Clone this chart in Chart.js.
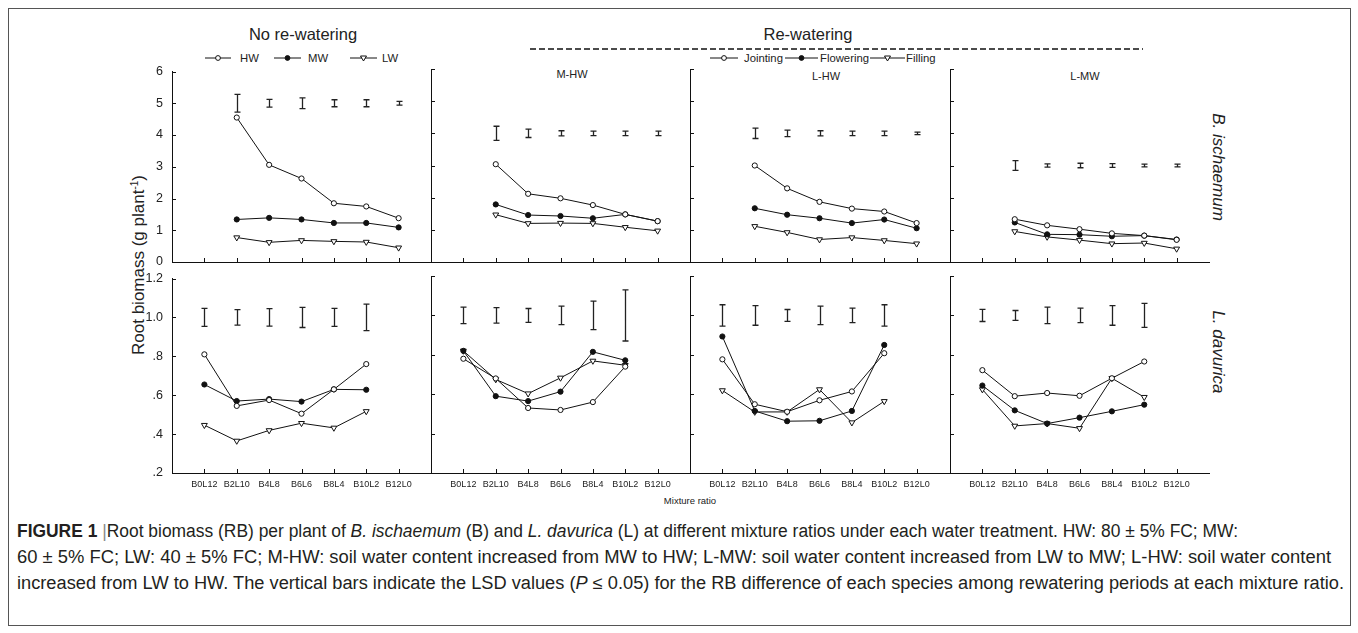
<!DOCTYPE html>
<html>
<head>
<meta charset="utf-8">
<script src="https://cdn.jsdelivr.net/npm/chart.js@4.4.0/dist/chart.umd.min.js"></script>
<style>
  body { margin: 0; background: #fff; font-family: 'Liberation Sans', Arial, sans-serif; color: #222; }
  #fig { position: relative; width: 1358px; height: 633px; overflow: hidden; }
  #frame { position: absolute; left: 8px; top: 8px; width: 1341px; height: 616px; border: 1px solid #555; }
  .abs { position: absolute; white-space: nowrap; }
  .c { transform: translate(-50%, -50%); }
  .m { transform: translateY(-50%); }
  canvas { position: absolute; }
  .hdr { font-size: 16.5px; }
  .leg { font-size: 11.3px; }
  .sub { font-size: 11px; }
  .sp { font-size: 17px; font-style: italic; }
  .cap { font-family: 'Liberation Sans Narrow', 'Liberation Sans', Arial, sans-serif; font-size: 18px; color: #231f20; transform-origin: 0 50%; }
  .cap .bar { color: #888; font-weight: normal; }
</style>
</head>
<body>
<div id="fig">
  <div id="frame"></div>

  <div class="abs c hdr" style="left:303px;top:34px">No re-watering</div>
  <div class="abs c hdr" style="left:808px;top:34px">Re-watering</div>
  <svg class="abs" style="left:530px;top:47px" width="614" height="4">
    <line x1="0" y1="2" x2="613" y2="2" stroke="#111" stroke-width="1.6" stroke-dasharray="6,3"/>
  </svg>

  <!-- legend: no re-watering -->
  <svg class="abs" style="left:205px;top:53px" width="26" height="10"><line x1="0" y1="5" x2="26" y2="5" stroke="#111"/><circle cx="13" cy="5" r="2.4" fill="#fff" stroke="#111"/></svg>
  <div class="abs m leg" style="left:240px;top:58px">HW</div>
  <svg class="abs" style="left:274px;top:53px" width="27" height="10"><line x1="0" y1="5" x2="27" y2="5" stroke="#111"/><circle cx="13.5" cy="5" r="2.4" fill="#111" stroke="#111"/></svg>
  <div class="abs m leg" style="left:308px;top:58px">MW</div>
  <svg class="abs" style="left:350px;top:53px" width="27" height="10"><line x1="0" y1="5" x2="27" y2="5" stroke="#111"/><polygon points="10.5,3 16.5,3 13.5,8" fill="#fff" stroke="#111"/></svg>
  <div class="abs m leg" style="left:382px;top:58px">LW</div>

  <!-- legend: re-watering -->
  <svg class="abs" style="left:710px;top:53px" width="28" height="10"><line x1="0" y1="5" x2="28" y2="5" stroke="#111"/><circle cx="14" cy="5" r="2.4" fill="#fff" stroke="#111"/></svg>
  <div class="abs m leg" style="left:744px;top:58px">Jointing</div>
  <svg class="abs" style="left:785px;top:53px" width="33" height="10"><line x1="0" y1="5" x2="33" y2="5" stroke="#111"/><circle cx="16.5" cy="5" r="2.4" fill="#111" stroke="#111"/></svg>
  <div class="abs m leg" style="left:820px;top:58px">Flowering</div>
  <svg class="abs" style="left:870px;top:53px" width="35" height="10"><line x1="0" y1="5" x2="35" y2="5" stroke="#111"/><polygon points="14.5,3 20.5,3 17.5,8" fill="#fff" stroke="#111"/></svg>
  <div class="abs m leg" style="left:906px;top:58px">Filling</div>

  <div class="abs c sub" style="left:572px;top:74px">M-HW</div>
  <div class="abs c sub" style="left:826px;top:76px">L-HW</div>
  <div class="abs c sub" style="left:1085px;top:76px">L-MW</div>

  <div class="abs sp" style="left:1218px;top:167px;transform:translate(-50%,-50%) rotate(90deg)">B. ischaemum</div>
  <div class="abs sp" style="left:1218px;top:352px;transform:translate(-50%,-50%) rotate(90deg)">L. davurica</div>

  <div class="abs" style="left:139px;top:265px;font-size:17px;transform:translate(-50%,-50%) rotate(-90deg)">Root biomass (g plant<sup style="font-size:10px">-1</sup>)</div>
  <div class="abs c" style="left:690px;top:500px;font-size:9.5px">Mixture ratio</div>

  <div class="abs m cap" data-w="1221" style="left:17px;top:531px"><b>FIGURE 1</b> <span class="bar">|</span>Root biomass (RB) per plant of <i>B. ischaemum</i> (B) and <i>L. davurica</i> (L) at different mixture ratios under each water treatment. HW: 80 ± 5% FC; MW:</div>
  <div class="abs m cap" data-w="1314" style="left:17px;top:557px">60 ± 5% FC; LW: 40 ± 5% FC; M-HW: soil water content increased from MW to HW; L-MW: soil water content increased from LW to MW; L-HW: soil water content</div>
  <div class="abs m cap" data-w="1327" style="left:17px;top:583px">increased from LW to HW. The vertical bars indicate the LSD values (<i>P</i> ≤ 0.05) for the RB difference of each species among rewatering periods at each mixture ratio.</div>
</div>

<script>
const ratios = ['B0L12', 'B2L10', 'B4L8', 'B6L6', 'B8L4', 'B10L2', 'B12L0']

// B. ischaemum, B2L10 .. B12L0
const bisNoHW = [4.55, 3.06, 2.63, 1.85, 1.75, 1.38]
const bisNoMW = [1.34, 1.39, 1.34, 1.23, 1.23, 1.09]
const bisNoLW = [0.77, 0.62, 0.68, 0.65, 0.63, 0.45]
const bisNoLsd = [0.28, 0.12, 0.17, 0.11, 0.11, 0.06]

const bisMHWJoint = [3.04, 2.12, 1.98, 1.77, 1.48, 1.27]
const bisMHWFlower = [1.79, 1.46, 1.43, 1.36, 1.48, 1.27]
const bisMHWFill = [1.47, 1.2, 1.21, 1.2, 1.08, 0.97]
const bisMHWLsd = [0.22, 0.13, 0.08, 0.07, 0.07, 0.07]

const bisLHWJoint = [3.0, 2.29, 1.87, 1.66, 1.57, 1.21]
const bisLHWFlower = [1.67, 1.47, 1.36, 1.21, 1.32, 1.05]
const bisLHWFill = [1.11, 0.92, 0.7, 0.76, 0.67, 0.57]
const bisLHWLsd = [0.16, 0.1, 0.08, 0.07, 0.07, 0.04]

const bisLMWJoint = [1.33, 1.14, 1.02, 0.89, 0.82, 0.69]
const bisLMWFlower = [1.23, 0.86, 0.85, 0.8, 0.82, 0.7]
const bisLMWFill = [0.95, 0.78, 0.68, 0.57, 0.59, 0.41]
const bisLMWLsd = [0.15, 0.05, 0.07, 0.06, 0.04, 0.04]

// L. davurica, B0L12 .. B10L2
const ldaNoHW = [0.81, 0.545, 0.575, 0.505, 0.63, 0.76]
const ldaNoMW = [0.655, 0.57, 0.58, 0.567, 0.63, 0.628]
const ldaNoLW = [0.446, 0.365, 0.419, 0.456, 0.432, 0.517]
const ldaNoLsd = [0.046, 0.04, 0.045, 0.052, 0.046, 0.068]

const ldaMHWJoint = [0.78, 0.68, 0.53, 0.52, 0.56, 0.74]
const ldaMHWFlower = [0.82, 0.59, 0.565, 0.613, 0.815, 0.772]
const ldaMHWFill = [0.82, 0.675, 0.603, 0.683, 0.769, 0.747]
const ldaMHWLsd = [0.042, 0.039, 0.035, 0.047, 0.072, 0.13]

const ldaLHWJoint = [0.777, 0.549, 0.511, 0.569, 0.614, 0.808]
const ldaLHWFlower = [0.893, 0.515, 0.463, 0.465, 0.515, 0.85]
const ldaLHWFill = [0.619, 0.51, 0.51, 0.624, 0.456, 0.564]
const ldaLHWLsd = [0.054, 0.05, 0.03, 0.047, 0.037, 0.054]

const ldaLMWJoint = [0.722, 0.59, 0.606, 0.592, 0.681, 0.766]
const ldaLMWFlower = [0.644, 0.518, 0.451, 0.481, 0.513, 0.547]
const ldaLMWFill = [0.624, 0.439, 0.451, 0.427, 0.681, 0.585]
const ldaLMWLsd = [0.031, 0.025, 0.042, 0.037, 0.05, 0.061]

const panels = [
  { col: 0, row: 0, series: [bisNoHW, bisNoMW, bisNoLW], mid: 5, lsd: bisNoLsd },
  { col: 1, row: 0, series: [bisMHWJoint, bisMHWFlower, bisMHWFill], mid: 4, lsd: bisMHWLsd },
  { col: 2, row: 0, series: [bisLHWJoint, bisLHWFlower, bisLHWFill], mid: 4, lsd: bisLHWLsd },
  { col: 3, row: 0, series: [bisLMWJoint, bisLMWFlower, bisLMWFill], mid: 3, lsd: bisLMWLsd },
  { col: 0, row: 1, series: [ldaNoHW, ldaNoMW, ldaNoLW], mid: 1, lsd: ldaNoLsd },
  { col: 1, row: 1, series: [ldaMHWJoint, ldaMHWFlower, ldaMHWFill], mid: 1, lsd: ldaMHWLsd },
  { col: 2, row: 1, series: [ldaLHWJoint, ldaLHWFlower, ldaLHWFill], mid: 1, lsd: ldaLHWLsd },
  { col: 3, row: 1, series: [ldaLMWJoint, ldaLMWFlower, ldaLMWFill], mid: 1, lsd: ldaLMWLsd },
]

const colLeft = [172, 431, 690, 950]
const colWidth = 259
const rowTop = [69, 276]
const rowHeight = [193, 197]

const markers = [
  { style: 'circle', rot: 0, r: 2.6, fill: '#fff' },
  { style: 'circle', rot: 0, r: 2.6, fill: '#111' },
  { style: 'triangle', rot: 180, r: 3.4, fill: '#fff' },
]

Chart.defaults.font.family = "'Liberation Sans', Arial, sans-serif"
Chart.defaults.color = '#222'

const inwardTicks = {
  id: 'inwardTicks',
  afterDraw(chart) {
    const { ctx, chartArea: a, scales: { x, y } } = chart
    ctx.save()
    ctx.strokeStyle = '#111'
    ctx.lineWidth = 1
    ctx.beginPath()
    for (let i = 0; i < ratios.length; i++) {
      const px = Math.round(x.getPixelForValue(i)) + 0.5
      ctx.moveTo(px, a.bottom)
      ctx.lineTo(px, a.bottom - 4)
    }
    y.ticks.forEach((t) => {
      const py = Math.round(y.getPixelForValue(t.value)) + 0.5
      ctx.moveTo(a.left, py)
      ctx.lineTo(a.left + 4, py)
    })
    ctx.stroke()
    ctx.restore()
  },
}

// LSD bars as I-beams round a fixed level
function lsdBars(mid, half, x0) {
  return {
    id: 'lsdBars',
    afterDatasetsDraw(chart) {
      const { ctx, scales: { x, y } } = chart
      ctx.save()
      ctx.strokeStyle = '#222'
      ctx.lineWidth = 1.3
      ctx.beginPath()
      half.forEach((h, j) => {
        const px = Math.round(x.getPixelForValue(x0 + j)) + 0.5
        const top = y.getPixelForValue(mid + h)
        const bot = y.getPixelForValue(mid - h)
        ctx.moveTo(px, top); ctx.lineTo(px, bot)
        ctx.moveTo(px - 3, top); ctx.lineTo(px + 3, top)
        ctx.moveTo(px - 3, bot); ctx.lineTo(px + 3, bot)
      })
      ctx.stroke()
      ctx.restore()
    },
  }
}

const fig = document.getElementById('fig')

function makePanel(p) {
  const padL = 50, padT = 14, padR = 14, padB = 34
  const W = colWidth, H = rowHeight[p.row]
  const cv = document.createElement('canvas')
  cv.width = W + padL + padR
  cv.height = H + padT + padB
  cv.style.width = cv.width + 'px'
  cv.style.height = cv.height + 'px'
  cv.style.left = (colLeft[p.col] - padL) + 'px'
  cv.style.top = (rowTop[p.row] - padT) + 'px'
  fig.appendChild(cv)

  const x0 = p.row === 0 ? 1 : 0
  const datasets = p.series.map((vals, i) => ({
    data: vals.map((v, j) => ({ x: x0 + j, y: v })),
    borderColor: '#111',
    borderWidth: 1,
    tension: 0,
    pointStyle: markers[i].style,
    pointRotation: markers[i].rot,
    pointRadius: markers[i].r,
    pointBackgroundColor: markers[i].fill,
    pointBorderColor: '#111',
    pointBorderWidth: 1,
  }))

  const top = p.row === 0
  new Chart(cv, {
    type: 'line',
    data: { datasets },
    options: {
      responsive: false,
      animation: false,
      events: [],
      layout: { padding: { top: padT, right: padR, left: 0, bottom: 0 } },
      plugins: { legend: { display: false }, tooltip: { enabled: false } },
      scales: {
        x: {
          type: 'linear',
          min: -1,
          max: 7,
          afterFit: (s) => { s.height = padB },
          grid: { display: false, drawTicks: false },
          border: { display: true, color: '#111', width: 1 },
          ticks: {
            display: !top,
            stepSize: 1,
            autoSkip: false,
            maxRotation: 0,
            padding: 6,
            font: { size: 9 },
            callback: (v) => ratios[v] ?? '',
          },
        },
        y: {
          type: 'linear',
          min: top ? 0 : 0.2,
          max: top ? 6 : 1.2,
          afterFit: (s) => { s.width = padL },
          grid: { display: false, drawTicks: false },
          border: { display: true, color: '#111', width: 1 },
          ticks: {
            display: p.col === 0,
            stepSize: top ? 1 : 0.2,
            padding: 9,
            font: { size: 12.5 },
            callback: (v) => {
              if (top) return String(Math.round(v))
              const s = v.toFixed(1)
              return s[0] === '0' ? s.slice(1) : s
            },
          },
        },
      },
    },
    plugins: [inwardTicks, lsdBars(p.mid, p.lsd, x0)],
  })
}

panels.forEach(makePanel)

// stretch caption lines to the widths in the picture
document.querySelectorAll('.cap').forEach((el) => {
  const w = el.getBoundingClientRect().width
  const target = +el.dataset.w
  el.style.transform = `translateY(-50%) scaleX(${target / w})`
})
</script>
</body>
</html>
